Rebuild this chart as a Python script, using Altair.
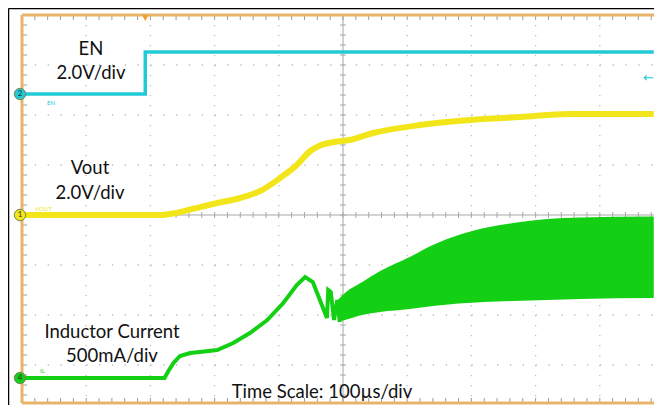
import altair as alt
import pandas as pd

# ---- data (time in µs, 100 µs/div; amplitude in screen divisions) ----
en_t = [0, 192, 192, 984]
en_v = [2.42, 2.42, 3.26, 3.26]

vout_t = [0, 215, 235, 262, 304, 340, 371, 402, 428, 449, 466, 486, 510, 547, 620, 698, 776, 854, 984]
vout_v = [0.0, 0.0, 0.03, 0.11, 0.24, 0.34, 0.48, 0.74, 1.00, 1.28, 1.40, 1.46, 1.50, 1.64, 1.80, 1.90, 1.96, 2.02, 2.02]

il_t = [0, 222, 228, 236, 246, 262, 277, 304, 329, 355, 382, 407, 428, 441, 453, 464, 475, 477, 481, 486, 491, 495]
il_v = [-3.26, -3.26, -3.12, -2.96, -2.82, -2.76, -2.74, -2.70, -2.56, -2.36, -2.10, -1.76, -1.40, -1.24, -1.34, -1.70, -2.06, -1.50, -1.54, -2.10, -1.70, -2.14]

band_t = [492, 503, 530, 558, 604, 640, 680, 720, 765, 818, 869, 984]
band_hi = [-1.70, -1.56, -1.34, -1.12, -0.84, -0.60, -0.40, -0.26, -0.16, -0.08, -0.05, -0.03]
band_lo = [-2.14, -2.10, -2.00, -1.94, -1.88, -1.82, -1.77, -1.74, -1.72, -1.70, -1.68, -1.66]

grid_x = [100, 200, 300, 400, 600, 700, 800, 900]
grid_y = [-3, -2, -1, 1, 2, 3]
minor_x = [20 * k for k in range(0, 50)]
minor_y = [round(-3.6 + 0.2 * k, 1) for k in range(0, 39)]

TMIN, TMAX, VMIN, VMAX, TC = 0, 984.4, -3.76, 4, 500

CYAN = "#22CAD8"
YELLOW = "#F2E61A"
GREEN = "#14D014"
ORANGE = "#E8B46A"
GRID = "#BDBDBD"
AXIS = "#A8A8A8"
FONT = "Lato"

xs = alt.Scale(domain=[TMIN, TMAX], nice=False, zero=False)
ys = alt.Scale(domain=[VMIN, VMAX], nice=False, zero=False)
one = pd.DataFrame({"a": [0]})


def X(field="t"):
    return alt.X(f"{field}:Q", scale=xs, axis=None)


def Y(field="v"):
    return alt.Y(f"{field}:Q", scale=ys, axis=None)


layers = []


def vrule(ts, lo, hi, **mk):
    df = pd.DataFrame({"t": ts, "v": [lo] * len(ts), "v2": [hi] * len(ts)})
    return alt.Chart(df).mark_rule(**mk).encode(x=X(), y=Y(), y2="v2:Q")


def hrule(vs, lo, hi, **mk):
    df = pd.DataFrame({"v": vs, "t": [lo] * len(vs), "t2": [hi] * len(vs)})
    return alt.Chart(df).mark_rule(**mk).encode(y=Y(), x=X(), x2="t2:Q")


# white cover on the right edge of the view
layers.append(vrule([TMAX], VMAX, VMIN, color="white", strokeWidth=3))

# dotted grid
layers.append(vrule(grid_x, VMAX, VMIN, color=GRID, strokeWidth=1.3, strokeDash=[1.3, 8.7]))
layers.append(hrule(grid_y, TMIN, TMAX, color=GRID, strokeWidth=1.3, strokeDash=[1.3, 11.54]))

# center axes
layers.append(vrule([TC], VMAX, VMIN, color=AXIS, strokeWidth=1))
layers.append(hrule([0], TMIN, TMAX, color=AXIS, strokeWidth=1))
layers.append(vrule(minor_x, 0, 0, color=AXIS, strokeWidth=1, yOffset=-3, y2Offset=3))
layers.append(hrule(minor_y, TC, TC, color=AXIS, strokeWidth=1, xOffset=-3, x2Offset=3))
# border ticks
layers.append(vrule(minor_x, VMAX, VMAX, color="#9A9A9A", strokeWidth=1, y2Offset=5))
layers.append(vrule(minor_x, VMIN, VMIN, color="#9A9A9A", strokeWidth=1, y2Offset=-5))
layers.append(hrule(minor_y, TMIN, TMIN, color="#9A9A9A", strokeWidth=1, x2Offset=5))

# orange frame
layers.append(vrule([TMIN], VMAX, VMIN, color=ORANGE, strokeWidth=3))
layers.append(hrule([VMAX, VMIN], TMIN, TMAX, color=ORANGE, strokeWidth=3))

# outer black frame
layers.append(alt.Chart(one).mark_rule(color="black", strokeWidth=1.5)
              .encode(x=alt.value(-13.5), y=alt.value(-6.5), y2=alt.value(400)))
layers.append(alt.Chart(one).mark_rule(color="black", strokeWidth=1.5)
              .encode(y=alt.value(-6.5), x=alt.value(-13.5), x2=alt.value(640)))

# traces
en_df = pd.DataFrame({"t": en_t, "v": en_v, "o": list(range(len(en_t)))})
vout_df = pd.DataFrame({"t": vout_t, "v": vout_v, "o": list(range(len(vout_t)))})
il_df = pd.DataFrame({"t": il_t, "v": il_v, "o": list(range(len(il_t)))})
band_df = pd.DataFrame({"t": band_t, "hi": band_hi, "lo": band_lo})

layers.append(alt.Chart(band_df).mark_area(color=GREEN, opacity=1, interpolate="monotone")
              .encode(x=X(), y=Y("hi"), y2="lo:Q"))
layers.append(alt.Chart(il_df).mark_line(color=GREEN, strokeWidth=4)
              .encode(x=X(), y=Y(), order="o:Q"))
layers.append(alt.Chart(vout_df).mark_line(color=YELLOW, strokeWidth=6, interpolate="monotone")
              .encode(x=X(), y=Y(), order="o:Q"))
layers.append(alt.Chart(en_df).mark_line(color=CYAN, strokeWidth=3.5)
              .encode(x=X(), y=Y(), order="o:Q"))

# channel markers
mk_df = pd.DataFrame({"v": [en_v[0], vout_v[0], il_v[0]],
                      "num": ["2", "1", "4"],
                      "col": [CYAN, YELLOW, GREEN]})
layers.append(alt.Chart(mk_df).mark_point(filled=True, shape="circle", size=130,
                                          stroke="#7A8A50", strokeWidth=1, opacity=1)
              .encode(x=alt.value(-2), y=Y(), fill=alt.Fill("col:N", scale=None)))
layers.append(alt.Chart(mk_df).mark_text(fontSize=8, font=FONT, color="#333333",
                                         baseline="middle", align="center")
              .encode(x=alt.value(-2), y=Y(), text="num:N"))

# small channel labels
for txt, col, px, py in [("EN", CYAN, 25, 88), ("VOUT", YELLOW, 13, 194), ("IL", GREEN, 18, 356)]:
    layers.append(alt.Chart(one).mark_text(text=txt, fontSize=6, font=FONT, color=col,
                                           align="left", baseline="middle")
                  .encode(x=alt.value(px), y=alt.value(py)))

# trigger marker and level arrow
trig_df = pd.DataFrame({"t": [en_t[1]]})
layers.append(alt.Chart(trig_df).mark_point(filled=True, shape="triangle-down", size=45,
                                            color="#F0A030", opacity=1)
              .encode(x=X(), y=alt.value(3)))
layers.append(alt.Chart(one).mark_text(text="←", fontSize=13, font="DejaVu Sans", color=CYAN,
                                       align="right", baseline="middle")
              .encode(x=alt.value(632), y=alt.value(63)))

# annotations
for txt, px, py in [("EN", 69, 34), ("2.0V/div", 69, 58), ("Vout", 68, 153), ("2.0V/div", 68, 178),
                    ("Inductor Current", 90, 317), ("500mA/div", 90, 341),
                    ("Time Scale: 100µs/div", 300, 377)]:
    layers.append(alt.Chart(one).mark_text(text=txt, fontSize=18.5, font=FONT, color="#111111",
                                           align="center", baseline="middle")
                  .encode(x=alt.value(px), y=alt.value(py)))

chart = alt.layer(*layers).properties(
    width=632, height=388,
    padding={"left": 14, "top": 7, "right": 0, "bottom": 2},
    autosize=alt.AutoSizeParams(type="none"),
    background="white",
    view=alt.ViewBackground(stroke="transparent", strokeWidth=0),
).configure_view(stroke="transparent", strokeWidth=0)

chart.save("out.html", embed_options={"renderer": "svg", "actions": False})
